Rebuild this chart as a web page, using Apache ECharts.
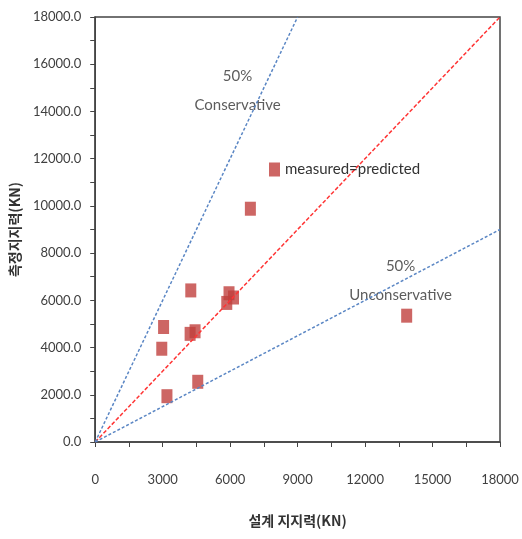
<!DOCTYPE html>
<html>
<head>
<meta charset="utf-8">
<script src="https://cdn.jsdelivr.net/npm/echarts@6/dist/echarts.min.js"></script>
<style>
  html, body { margin: 0; padding: 0; background: #fff; }
  #main { width: 522px; height: 539px; }
</style>
</head>
<body>
<div id="main"></div>
<script>
// 설계 지지력 vs 측정 지지력 (KN)
var designLoad = [6900, 4250, 5950, 6150, 5850, 3040, 2960, 4220, 4440, 4560, 3190, 13850];
var measuredLoad = [9880, 6420, 6300, 6120, 5890, 4870, 3950, 4580, 4690, 2550, 1940, 5350];
var axisMax = 18000;
var equalLine = [[0, 0], [18000, 18000]];
var conservLine = [[0, 0], [9000, 18000]];
var unconservLine = [[0, 0], [18000, 9000]];
var notes = [
  { text: '50%\nConservative', x: 6330, y: 14900 },
  { text: '50%\nUnconservative', x: 13580, y: 6830 }
];

var points = designLoad.map(function (d, i) { return [d, measuredLoad[i]]; });
var font = 'Lato, "Noto Sans", sans-serif';
var axisColor = '#444';

var chart = echarts.init(document.getElementById('main'));
chart.setOption({
  animation: false,
  grid: {
    left: 93, right: 22, top: 17, bottom: 97,
    show: true, borderColor: axisColor, borderWidth: 1.5
  },
  legend: {
    data: [{ name: 'measured=predicted', icon: 'rect' }],
    left: 264, top: 157,
    itemWidth: 11, itemHeight: 14, itemGap: 5,
    textStyle: { fontSize: 15, color: '#333', fontFamily: font }
  },
  xAxis: {
    type: 'value', min: 0, max: axisMax, interval: 3000,
    name: '설계 지지력(KN)', nameLocation: 'middle', nameGap: 72,
    nameTextStyle: { fontSize: 14, fontWeight: 'bold', color: '#333', fontFamily: '"Noto Sans CJK KR"' },
    axisLine: { lineStyle: { color: axisColor, width: 1.5 } },
    axisTick: { length: 5, lineStyle: { color: axisColor } },
    minorTick: { show: true, splitNumber: 2, length: 5, lineStyle: { color: axisColor } },
    splitLine: { show: false },
    axisLabel: {
      margin: 31, fontSize: 13, color: '#404040', fontFamily: font,
      formatter: function (v) { return String(v); }
    }
  },
  yAxis: {
    type: 'value', min: 0, max: axisMax, interval: 2000,
    name: '측정지지력(KN)', nameLocation: 'middle', nameGap: 70,
    nameTextStyle: { fontSize: 14, fontWeight: 'bold', color: '#333', fontFamily: '"Noto Sans CJK KR"' },
    axisLine: { lineStyle: { color: axisColor, width: 1.5 } },
    axisTick: { length: 5, lineStyle: { color: axisColor } },
    minorTick: { show: true, splitNumber: 2, length: 5, lineStyle: { color: axisColor } },
    splitLine: { show: false },
    axisLabel: {
      margin: 14, fontSize: 13, color: '#404040', fontFamily: font,
      formatter: function (v) { return v.toFixed(1); }
    }
  },
  series: [
    {
      name: 'equal', type: 'line', data: equalLine, symbol: 'none', silent: true,
      lineStyle: { color: '#ff3535', width: 1.5, type: [4, 2] }
    },
    {
      name: 'conservative', type: 'line', data: conservLine, symbol: 'none', silent: true,
      lineStyle: { color: '#5a86c4', width: 1.5, type: [3, 2] }
    },
    {
      name: 'unconservative', type: 'line', data: unconservLine, symbol: 'none', silent: true,
      lineStyle: { color: '#5a86c4', width: 1.5, type: [3, 2] }
    },
    {
      name: 'notes', type: 'scatter', symbolSize: 0, silent: true,
      data: notes.map(function (n) { return { value: [n.x, n.y], label: { formatter: n.text } }; }),
      label: {
        show: true, position: 'inside', fontSize: 15, lineHeight: 29,
        color: '#333', fontFamily: font
      }
    },
    {
      name: 'measured=predicted', type: 'scatter', data: points,
      symbol: 'rect', symbolSize: [11, 14],
      itemStyle: { color: '#c0403d' }
    }
  ]
});
</script>
</body>
</html>
